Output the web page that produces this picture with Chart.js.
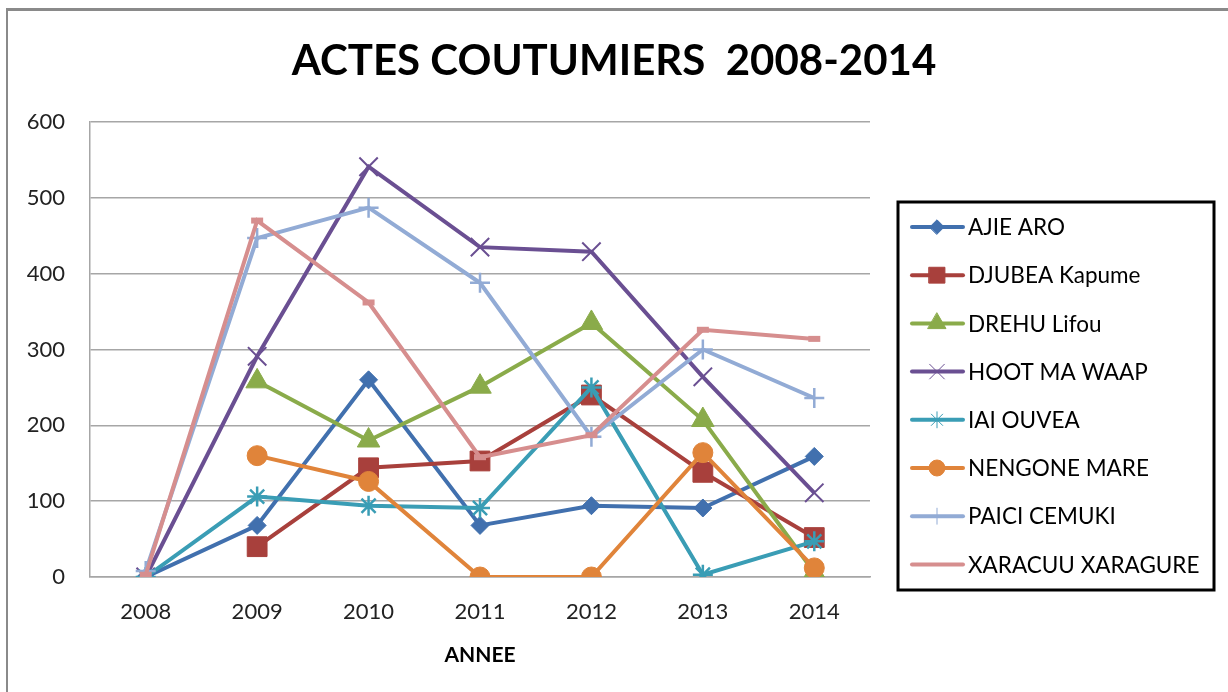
<!DOCTYPE html>
<html>
<head>
<meta charset="utf-8">
<script src="https://cdn.jsdelivr.net/npm/chart.js@4.4.1/dist/chart.umd.min.js"></script>
<style>
    html, body { margin: 0; padding: 0; background: #fff; overflow: hidden; }
    #frame {
        position: absolute; left: 6px; top: 8px; width: 1240px; height: 700px;
        border-left: 2px solid #8a8a8a; border-top: 3px solid #8a8a8a;
    }
    #chart { position: absolute; left: 0; top: 0; }
</style>
</head>
<body>
<div id="frame"></div>
<canvas id="chart" width="1228" height="692"></canvas>
<script>
// --- Data ---
const years = ['2008', '2009', '2010', '2011', '2012', '2013', '2014'];

const ajieAro       = [0, 68, 260, 68, 94, 91, 159];
const djubeaKapume  = [null, 40, 144, 153, 240, 138, 52];
const drehuLifou    = [null, 258, 180, 251, 335, 207, 6];
const hootMaWaap    = [0, 291, 541, 435, 429, 264, 111];
const iaiOuvea      = [0, 106, 94, 91, 250, 3, 47];
const nengoneMare   = [null, 160, 126, 0, 0, 164, 12];
const paiciCemuki   = [8, 447, 487, 388, 185, 300, 236];
const xaracuu       = [3, 470, 362, 158, 187, 326, 314];

const yTicks = [0, 100, 200, 300, 400, 500, 600];

const FONT = 'Lato, "Open Sans", sans-serif';

// --- Series styles ---
const series = [
    { label: 'AJIE ARO',         data: ajieAro,      color: '#4170ae', style: 'rectRot',  radius: 9,  bw: 1 },
    { label: 'DJUBEA Kapume',    data: djubeaKapume, color: '#a8403c', style: 'rect',     radius: 14, bw: 1 },
    { label: 'DREHU Lifou',      data: drehuLifou,   color: '#8aab4a', style: 'triangle', radius: 13, bw: 1 },
    { label: 'HOOT MA WAAP',     data: hootMaWaap,   color: '#6a4f92', style: 'crossRot', radius: 13, bw: 2 },
    { label: 'IAI OUVEA',        data: iaiOuvea,     color: '#3a9db5', style: 'star',     radius: 10, bw: 2.5 },
    { label: 'NENGONE MARE',     data: nengoneMare,  color: '#e0843a', style: 'circle',   radius: 10, bw: 1 },
    { label: 'PAICI CEMUKI',     data: paiciCemuki,  color: '#92abd5', style: 'cross',    radius: 10, bw: 2.5 },
    { label: 'XARACUU XARAGURE', data: xaracuu,      color: '#d68e8e', style: 'line',     radius: 6,  bw: 6 }
];

// --- Boxed legend drawn on the right ---
const boxLegend = {
    id: 'boxLegend',
    afterDraw(chart) {
        const ctx = chart.ctx;
        ctx.save();
        ctx.lineWidth = 3;
        ctx.strokeStyle = '#000';
        ctx.strokeRect(898, 202, 316, 388);

        ctx.font = '22.5px ' + FONT;
        ctx.textBaseline = 'middle';
        series.forEach((s, i) => {
            const y = 227 + i * 48.2;
            ctx.strokeStyle = s.color;
            ctx.lineWidth = 4;
            ctx.lineCap = 'round';
            ctx.beginPath();
            ctx.moveTo(912, y);
            ctx.lineTo(963, y);
            ctx.stroke();

            if (s.style !== 'line') {
                ctx.fillStyle = s.color;
                ctx.strokeStyle = s.color;
                ctx.lineWidth = 1;
                Chart.helpers.drawPoint(ctx, {
                    pointStyle: s.style, rotation: 0,
                    radius: s.radius * 0.8, borderWidth: 1
                }, 937, y);
            }
            ctx.fillStyle = '#000';
            ctx.fillText(s.label, 968, y + 1);
        });
        ctx.restore();
    }
};

// --- Chart ---
const ctx = document.getElementById('chart').getContext('2d');

new Chart(ctx, {
    type: 'line',
    data: {
        labels: years,
        datasets: series.map((s, i) => ({
            label: s.label,
            data: s.data,
            borderColor: s.color,
            backgroundColor: s.color,
            borderWidth: 4,
            tension: 0,
            fill: false,
            pointStyle: s.style,
            pointRadius: s.radius,
            pointHoverRadius: s.radius,
            pointBorderWidth: s.bw,
            pointBorderColor: s.color,
            pointBackgroundColor: s.color,
            order: series.length - i
        }))
    },
    options: {
        responsive: false,
        animation: false,
        events: [],
        layout: {
            padding: { left: 0, right: 0, top: 0, bottom: 0 }
        },
        plugins: {
            legend: { display: false },
            tooltip: { enabled: false },
            title: {
                display: true,
                text: 'ACTES COUTUMIERS  2008-2014',
                color: '#000',
                font: { family: FONT, size: 42, weight: 'bold', lineHeight: 1.2 },
                padding: { top: 36, bottom: 35.6 }
            }
        },
        scales: {
            x: {
                offset: true,
                afterFit(scale) {
                    scale.height = 115;
                },
                grid: { display: false, drawTicks: false },
                border: { display: true, color: '#a6a6a6', width: 1.5 },
                ticks: {
                    color: '#222',
                    padding: 22,
                    font: { family: FONT, size: 22, lineHeight: 1.2 }
                },
                title: {
                    display: true,
                    text: 'ANNEE',
                    color: '#000',
                    font: { family: FONT, size: 21, weight: 'bold', lineHeight: 1.2 },
                    padding: { top: 20, bottom: 24.4 }
                }
            },
            y: {
                min: 0,
                max: 600,
                afterBuildTicks(scale) {
                    scale.ticks = yTicks.map(v => ({ value: v }));
                },
                afterFit(scale) {
                    scale.width = 90;
                },
                grid: { color: '#a6a6a6', lineWidth: 1.5, drawTicks: false },
                border: { display: true, color: '#a6a6a6', width: 1.5 },
                ticks: {
                    color: '#222',
                    padding: 25,
                    font: { family: FONT, size: 22 }
                }
            },
            // empty right-hand axis that reserves the room for the legend box
            side: {
                position: 'right',
                display: true,
                afterFit(scale) {
                    scale.width = 358;
                },
                grid: { display: false, drawTicks: false },
                border: { display: false },
                ticks: { display: false }
            }
        }
    },
    plugins: [boxLegend]
});
</script>
</body>
</html>
